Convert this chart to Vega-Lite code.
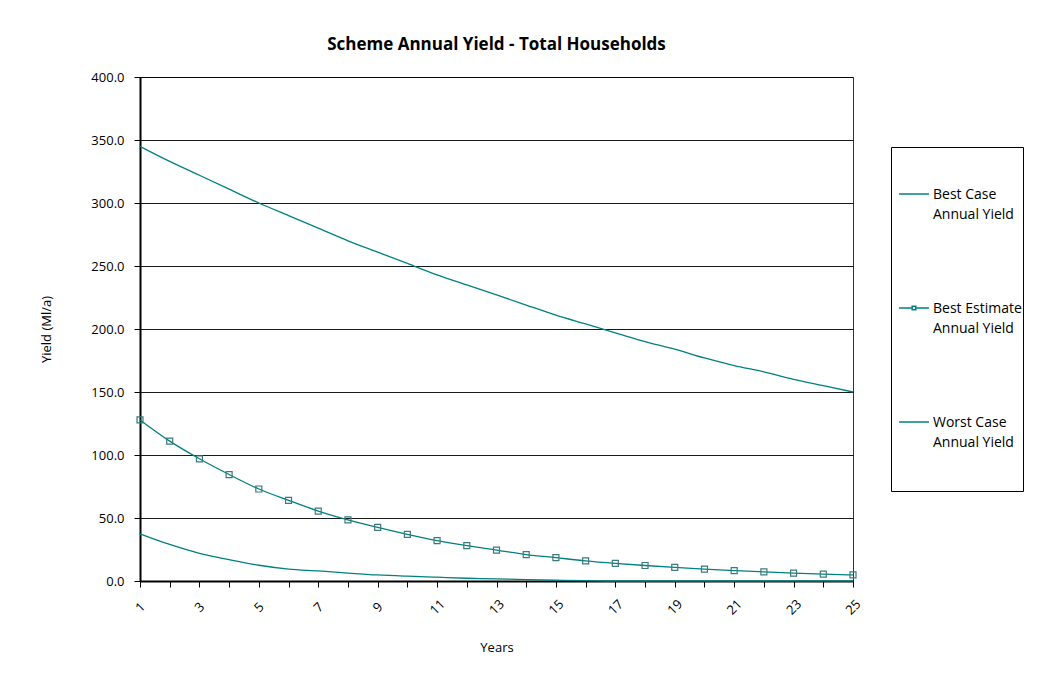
{
  "$schema": "https://vega.github.io/schema/vega-lite/v6.json",
  "width": 713,
  "height": 504,
  "autosize": {"type": "none"},
  "padding": {"left": 140, "top": 77, "right": 204, "bottom": 118},
  "background": "white",
  "title": {
    "text": "Scheme Annual Yield - Total Households",
    "font": "Open Sans",
    "fontSize": 17,
    "fontWeight": "bold",
    "color": "#000",
    "anchor": "middle",
    "offset": 17
  },
  "config": {
    "font": "Open Sans",
    "view": {"stroke": "#333", "strokeWidth": 1},
    "axis": {
      "labelFont": "Open Sans",
      "labelFontSize": 13,
      "labelColor": "#000",
      "titleFont": "Open Sans",
      "titleFontSize": 13,
      "titleFontWeight": "normal",
      "titleColor": "#000",
      "domainColor": "#000",
      "domainWidth": 2,
      "tickColor": "#000",
      "tickSize": 6,
      "gridColor": "#000",
      "gridWidth": 1,
      "gridOpacity": 0.9
    }
  },
  "data": {
    "values": [
      {"year": 1, "series": "Best Case Annual Yield", "value": 345},
      {"year": 2, "series": "Best Case Annual Yield", "value": 333},
      {"year": 3, "series": "Best Case Annual Yield", "value": 322},
      {"year": 4, "series": "Best Case Annual Yield", "value": 311},
      {"year": 5, "series": "Best Case Annual Yield", "value": 300},
      {"year": 6, "series": "Best Case Annual Yield", "value": 290},
      {"year": 7, "series": "Best Case Annual Yield", "value": 280},
      {"year": 8, "series": "Best Case Annual Yield", "value": 270},
      {"year": 9, "series": "Best Case Annual Yield", "value": 261},
      {"year": 10, "series": "Best Case Annual Yield", "value": 252},
      {"year": 11, "series": "Best Case Annual Yield", "value": 243},
      {"year": 12, "series": "Best Case Annual Yield", "value": 235},
      {"year": 13, "series": "Best Case Annual Yield", "value": 227},
      {"year": 14, "series": "Best Case Annual Yield", "value": 219},
      {"year": 15, "series": "Best Case Annual Yield", "value": 211},
      {"year": 16, "series": "Best Case Annual Yield", "value": 204},
      {"year": 17, "series": "Best Case Annual Yield", "value": 197},
      {"year": 18, "series": "Best Case Annual Yield", "value": 190},
      {"year": 19, "series": "Best Case Annual Yield", "value": 184},
      {"year": 20, "series": "Best Case Annual Yield", "value": 177},
      {"year": 21, "series": "Best Case Annual Yield", "value": 171},
      {"year": 22, "series": "Best Case Annual Yield", "value": 166},
      {"year": 23, "series": "Best Case Annual Yield", "value": 160},
      {"year": 24, "series": "Best Case Annual Yield", "value": 155},
      {"year": 25, "series": "Best Case Annual Yield", "value": 150},
      {"year": 1, "series": "Best Estimate Annual Yield", "value": 127.8},
      {"year": 2, "series": "Best Estimate Annual Yield", "value": 111},
      {"year": 3, "series": "Best Estimate Annual Yield", "value": 97},
      {"year": 4, "series": "Best Estimate Annual Yield", "value": 84.5},
      {"year": 5, "series": "Best Estimate Annual Yield", "value": 73},
      {"year": 6, "series": "Best Estimate Annual Yield", "value": 64},
      {"year": 7, "series": "Best Estimate Annual Yield", "value": 55.5},
      {"year": 8, "series": "Best Estimate Annual Yield", "value": 48.5},
      {"year": 9, "series": "Best Estimate Annual Yield", "value": 42.5},
      {"year": 10, "series": "Best Estimate Annual Yield", "value": 37},
      {"year": 11, "series": "Best Estimate Annual Yield", "value": 32},
      {"year": 12, "series": "Best Estimate Annual Yield", "value": 28},
      {"year": 13, "series": "Best Estimate Annual Yield", "value": 24.5},
      {"year": 14, "series": "Best Estimate Annual Yield", "value": 21},
      {"year": 15, "series": "Best Estimate Annual Yield", "value": 18.5},
      {"year": 16, "series": "Best Estimate Annual Yield", "value": 16},
      {"year": 17, "series": "Best Estimate Annual Yield", "value": 14},
      {"year": 18, "series": "Best Estimate Annual Yield", "value": 12.3},
      {"year": 19, "series": "Best Estimate Annual Yield", "value": 10.8},
      {"year": 20, "series": "Best Estimate Annual Yield", "value": 9.5},
      {"year": 21, "series": "Best Estimate Annual Yield", "value": 8.3},
      {"year": 22, "series": "Best Estimate Annual Yield", "value": 7.2},
      {"year": 23, "series": "Best Estimate Annual Yield", "value": 6.3},
      {"year": 24, "series": "Best Estimate Annual Yield", "value": 5.5},
      {"year": 25, "series": "Best Estimate Annual Yield", "value": 4.8},
      {"year": 1, "series": "Worst Case Annual Yield", "value": 37.5},
      {"year": 2, "series": "Worst Case Annual Yield", "value": 29},
      {"year": 3, "series": "Worst Case Annual Yield", "value": 22},
      {"year": 4, "series": "Worst Case Annual Yield", "value": 17},
      {"year": 5, "series": "Worst Case Annual Yield", "value": 12.5},
      {"year": 6, "series": "Worst Case Annual Yield", "value": 9.5},
      {"year": 7, "series": "Worst Case Annual Yield", "value": 8},
      {"year": 8, "series": "Worst Case Annual Yield", "value": 6.3},
      {"year": 9, "series": "Worst Case Annual Yield", "value": 4.8},
      {"year": 10, "series": "Worst Case Annual Yield", "value": 3.8},
      {"year": 11, "series": "Worst Case Annual Yield", "value": 3},
      {"year": 12, "series": "Worst Case Annual Yield", "value": 2.2},
      {"year": 13, "series": "Worst Case Annual Yield", "value": 1.7},
      {"year": 14, "series": "Worst Case Annual Yield", "value": 1.1},
      {"year": 15, "series": "Worst Case Annual Yield", "value": 0.6},
      {"year": 16, "series": "Worst Case Annual Yield", "value": 0.3},
      {"year": 17, "series": "Worst Case Annual Yield", "value": 0},
      {"year": 18, "series": "Worst Case Annual Yield", "value": 0},
      {"year": 19, "series": "Worst Case Annual Yield", "value": 0},
      {"year": 20, "series": "Worst Case Annual Yield", "value": 0},
      {"year": 21, "series": "Worst Case Annual Yield", "value": 0},
      {"year": 22, "series": "Worst Case Annual Yield", "value": 0},
      {"year": 23, "series": "Worst Case Annual Yield", "value": 0},
      {"year": 24, "series": "Worst Case Annual Yield", "value": 0},
      {"year": 25, "series": "Worst Case Annual Yield", "value": 0}
    ]
  },
  "encoding": {
    "x": {
      "field": "year",
      "type": "quantitative",
      "scale": {"domain": [1, 25], "nice": false, "zero": false},
      "axis": {
        "title": "Years",
        "values": [1,2,3,4,5,6,7,8,9,10,11,12,13,14,15,16,17,18,19,20,21,22,23,24,25],
        "labelExpr": "datum.value % 2 == 1 ? datum.label : ''",
        "labelAngle": -45,
        "labelAlign": "center",
        "labelBaseline": "middle",
        "labelPadding": 20,
        "labelFlush": false,
        "labelOverlap": false,
        "grid": false,
        "titlePadding": 24
      }
    },
    "y": {
      "field": "value",
      "type": "quantitative",
      "scale": {"domain": [0, 400], "nice": false},
      "axis": {
        "title": "Yield (Ml/a)",
        "values": [0, 50, 100, 150, 200, 250, 300, 350, 400],
        "format": ".1f",
        "labelPadding": 10,
        "titlePadding": 37
      }
    },
    "color": {
      "field": "series",
      "type": "nominal",
      "scale": {"range": ["#008080", "#008080", "#008080"]},
      "legend": {
        "title": null,
        "orient": "none",
        "legendX": 751,
        "legendY": 70,
        "strokeColor": "#000",
        "fillColor": "#fff",
        "padding": 1,
        "rowPadding": 0,
        "clipHeight": 114,
        "symbolType": "stroke",
        "symbolSize": 900,
        "symbolStrokeWidth": 1.5,
        "labelOffset": 5,
        "labelFont": "Open Sans",
        "labelFontSize": 14,
        "labelColor": "#000",
        "labelLimit": 200,
        "labelBaseline": "middle",
        "labelExpr": "split(replace(datum.label, ' Annual', '\u00a0\u00a0|Annual'), '|')",
        "encode": {
          "symbols": {
            "update": {
              "x": {"value": 22},
              "y": {"value": 46},
              "shape": {"signal": "datum.value === 'Best Estimate Annual Yield' ? 'M-1,0H-0.12M0.12,0H1M-0.12,-0.12H0.12V0.12H-0.12Z' : 'stroke'"},
              "fill": {"value": "transparent"}
            }
          },
          "labels": {
            "update": {"x": {"value": 41}, "y": {"value": 47}, "lineHeight": {"value": 20}}
          }
        }
      }
    }
  },
  "layer": [
    {
      "mark": {"type": "line", "strokeWidth": 1.3, "interpolate": "monotone"}
    },
    {
      "transform": [{"filter": "datum.series === 'Best Estimate Annual Yield'"}],
      "mark": {"type": "point", "shape": "square", "filled": false, "size": 36, "stroke": "#3d7a7a", "strokeWidth": 1.2, "opacity": 1}
    }
  ]
}
